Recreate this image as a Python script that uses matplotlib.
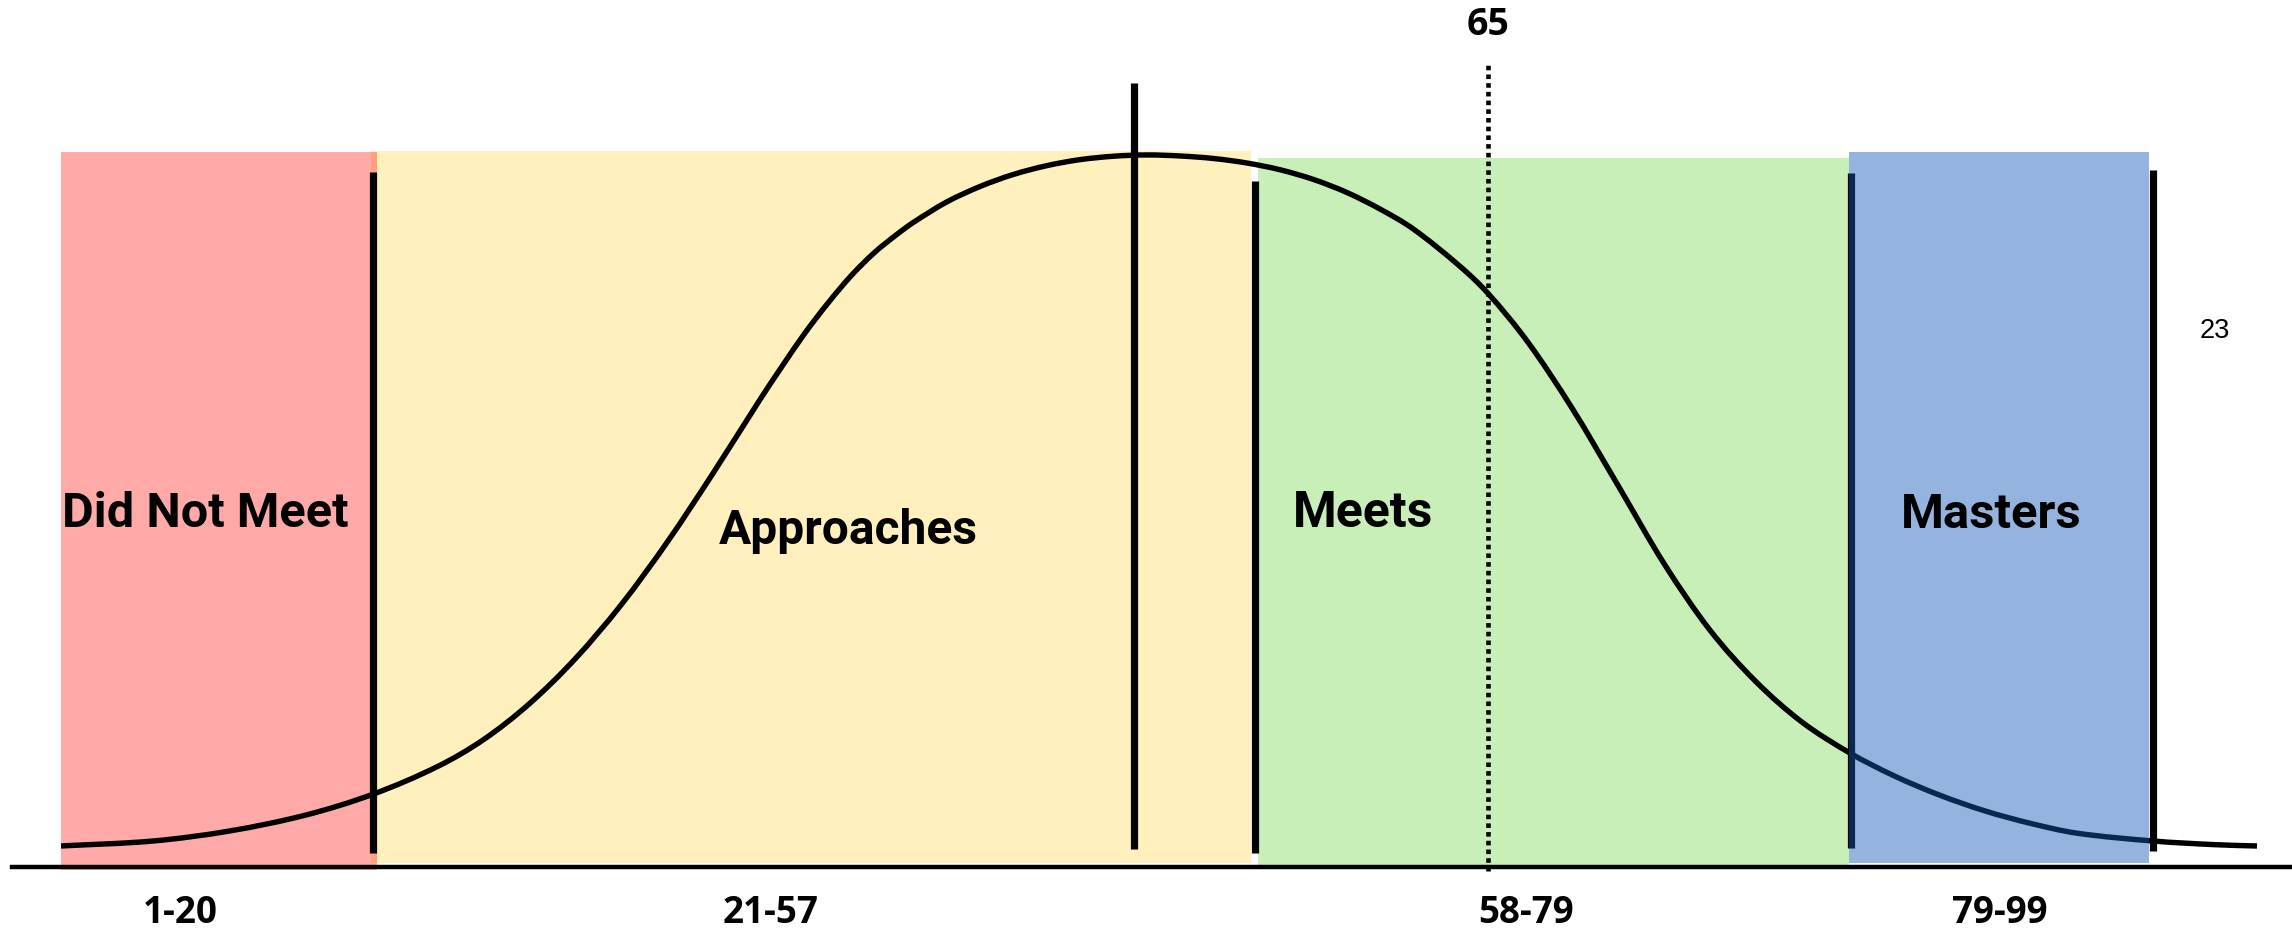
import numpy as np
import matplotlib
matplotlib.use("Agg")
import matplotlib.pyplot as plt
from matplotlib.colors import to_rgb
from matplotlib.path import Path
from matplotlib.patches import PathPatch

# performance bands (position on the 0-100 scale of the drawing)
band_names = ["Did Not Meet", "Approaches", "Meets", "Masters"]
band_ranges = ["1-20", "21-57", "58-79", "79-99"]
band_left = [0.0, 14.1, 54.5, 81.4]
band_right = [14.4, 54.2, 81.4, 95.1]
band_top = [100.3, 100.4, 99.4, 100.3]
band_bottom = [-3.5, -2.5, -3.2, -2.5]
band_colors = ["#ffaaa9", "#fff0be", "#c9efb9", "#95b4de"]

# bell curve
curve_x = [0.0, 4.19, 7.68, 11.16, 14.23, 17.15, 19.25, 21.34, 23.43, 25.52,
           27.61, 29.70, 31.79, 32.83, 33.88, 34.93, 35.97, 37.02, 38.06, 38.81,
           40.33, 41.85, 43.37, 44.89, 46.40, 47.92, 49.44, 50.96, 52.47, 53.99,
           55.51, 57.03, 58.55, 60.06, 61.58, 63.67, 64.98, 66.80, 68.81, 70.90,
           72.99, 75.08, 77.17, 79.26, 81.46, 83.44, 85.53, 87.62, 89.71, 91.80,
           95.26, 98.08, 100.0]
curve_y = [0.0, 0.72, 2.17, 4.48, 7.51, 11.49, 15.39, 20.59, 27.10, 34.90,
           43.93, 53.90, 64.31, 69.29, 74.13, 78.47, 82.37, 85.69, 88.37, 90.10,
           93.06, 95.30, 97.04, 98.31, 99.18, 99.67, 99.86, 99.71, 99.35, 98.70,
           97.72, 96.32, 94.44, 92.05, 89.16, 83.86, 79.86, 72.80, 63.27, 52.12,
           40.85, 31.23, 23.79, 17.95, 13.44, 10.19, 7.37, 5.06, 3.25, 1.85,
           0.72, 0.19, 0.0]

# cut-off markers
marker_x = [14.23, 48.86, 54.37, 81.53, 95.26]
marker_top = [97.4, 110.3, 96.1, 97.3, 97.7]
marker_bottom = [-1.0, -0.4, -1.0, -0.3, -0.7]

score = 65
score_top = 113.0
side_note = "23"


def smooth_path(xs, ys):
    # cubic hermite through the read points (tangents from neighbours), as beziers
    x = np.asarray(xs, float)
    y = np.asarray(ys, float)
    slope = np.zeros_like(y)
    slope[1:-1] = (y[2:] - y[:-2]) / (x[2:] - x[:-2])
    slope[0] = (y[1] - y[0]) / (x[1] - x[0])
    slope[-1] = (y[-1] - y[-2]) / (x[-1] - x[-2])
    verts = [(x[0], y[0])]
    codes = [Path.MOVETO]
    for i in range(len(x) - 1):
        h = (x[i + 1] - x[i]) / 3.0
        verts += [(x[i] + h, y[i] + h * slope[i]),
                  (x[i + 1] - h, y[i + 1] - h * slope[i + 1]),
                  (x[i + 1], y[i + 1])]
        codes += [Path.CURVE4] * 3
    return Path(verts, codes)


fig = plt.figure(figsize=(22.92, 9.32), dpi=100)
ax = fig.add_axes([0, 0, 1, 1])
ax.set_xlim(-2.778, 101.594)
ax.set_ylim(-12.43, 122.25)
ax.axis("off")

# first three bands underneath everything
for i in range(3):
    ax.fill_between([band_left[i], band_right[i]], band_bottom[i], band_top[i],
                    color=band_colors[i], lw=0, zorder=1)

# red / yellow overlap shows as a darker strip
ov_left = band_left[1]
ov_right = band_right[0]
ov_color = np.array(to_rgb(band_colors[0])) * np.array(to_rgb(band_colors[1]))
ax.fill_between([ov_left, ov_right], max(band_bottom[0], band_bottom[1]),
                min(band_top[0], band_top[1]), color=ov_color, lw=0, zorder=1.5)

for x, top, bottom in zip(marker_x, marker_top, marker_bottom):
    ax.plot([x, x], [bottom, top], color="black", lw=5.2, solid_capstyle="butt", zorder=2)

ax.add_patch(PathPatch(smooth_path(curve_x, curve_y), facecolor="none",
                       edgecolor="black", lw=3.9, capstyle="butt", zorder=3))

# score line
ax.plot([score, score], [-3.6, score_top], color="black", lw=3.3,
        linestyle=(0, (1, 0.9)), zorder=3)

# masters band sits on top, semi transparent (tints the lines navy)
alpha = 0.45
blue = (np.array(to_rgb(band_colors[3])) - (1 - alpha)) / alpha
blue = np.clip(blue, 0, 1)
ax.fill_between([band_left[3], band_right[3]], band_bottom[3], band_top[3],
                color=blue, alpha=alpha, lw=0, zorder=4)

# baseline
ax.plot([-2.23, 101.6], [-3.03, -3.03], color="black", lw=3.2, zorder=5)

label_x = [6.56, 35.84, 59.27, 87.89]
label_y = [46.1, 43.7, 46.04, 46.0]
label_size = [35, 34.5, 36, 35.3]
for name, x, y, s in zip(band_names, label_x, label_y, label_size):
    ax.text(x, y, name, ha="center", va="baseline", fontsize=s,
            fontfamily="Roboto", fontweight="bold", zorder=6)

range_x = [5.42, 32.29, 66.71, 88.30]
for r, x in zip(band_ranges, range_x):
    ax.text(x, -11.13, r, ha="center", va="baseline", fontsize=26.5,
            fontfamily="Open Sans", fontweight="bold", zorder=6)

ax.text(score, 117.2, str(score), ha="center", va="baseline", fontsize=27,
        fontfamily="Open Sans", fontweight="bold", zorder=6)
ax.text(98.09, 73.4, side_note, ha="center", va="baseline", fontsize=19.5,
        fontfamily="Liberation Sans", zorder=6)

fig.savefig("out.png", dpi=100)
